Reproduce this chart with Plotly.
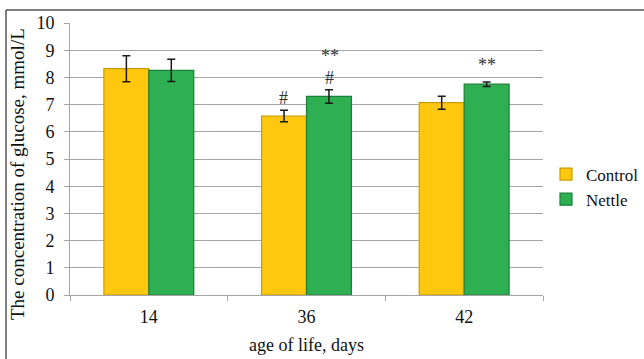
import plotly.graph_objects as go

categories = ["14", "36", "42"]
control = [8.32, 6.58, 7.07]
control_err = [0.48, 0.21, 0.24]
nettle = [8.26, 7.30, 7.75]
nettle_err = [0.41, 0.25, 0.08]

# significance marks: (category, series, label, y)
marks = [
    ("36", "control", "#", 7.25),
    ("36", "nettle", "#", 7.98),
    ("36", "nettle", "**", 8.8),
    ("42", "nettle", "**", 8.45),
]

FONT = "Liberation Serif"
W, H = 644, 359
L, R, T, B = 70, 101, 23, 64
pw, ph = W - L - R, H - T - B

fig = go.Figure()
fig.add_trace(go.Bar(
    name="Control", x=categories, y=control,
    marker=dict(color="#FFC80F", line=dict(color="#C99A00", width=1.2)),
    error_y=dict(type="data", array=control_err, color="#1a1a1a", thickness=1.5, width=4),
))
fig.add_trace(go.Bar(
    name="Nettle", x=categories, y=nettle,
    marker=dict(color="#2EAF52", line=dict(color="#1D7E38", width=1.2)),
    error_y=dict(type="data", array=nettle_err, color="#1a1a1a", thickness=1.5, width=4),
))

bar_px = 46
for cat, ser, lab, yv in marks:
    fig.add_annotation(
        x=categories.index(cat), y=yv, xref="x", yref="y", text=lab, showarrow=False,
        xshift=(-bar_px / 2 if ser == "control" else bar_px / 2),
        font=dict(family=FONT, size=18, color="#333333"),
    )

def px_x(p):
    return (p - L) / pw

def px_y(p):
    return (H - B - p) / ph

# y axis title as rotated text
fig.add_annotation(
    x=px_x(17), y=px_y(174), xref="paper", yref="paper", showarrow=False,
    text="The concentration of glucose, mmol/L", textangle=-90,
    xanchor="center", yanchor="middle",
    font=dict(family=FONT, size=19, color="#111111"),
)

# outer frame (top and left)
fig.add_shape(type="line", xref="paper", yref="paper",
              x0=px_x(6), x1=px_x(650), y0=px_y(10), y1=px_y(10),
              line=dict(color="#555555", width=1.5))
fig.add_shape(type="line", xref="paper", yref="paper",
              x0=px_x(6), x1=px_x(6), y0=px_y(10), y1=px_y(365),
              line=dict(color="#555555", width=1.5))

fig.update_layout(
    width=W, height=H,
    margin=dict(l=L, r=R, t=T, b=B, autoexpand=False),
    paper_bgcolor="white", plot_bgcolor="white",
    barmode="group", bargap=0.43, bargroupgap=0,
    font=dict(family=FONT, size=18, color="#111111"),
    showlegend=True,
    legend=dict(x=px_x(546), y=px_y(187), xanchor="left", yanchor="middle",
                font=dict(family=FONT, size=17, color="#111111"),
                itemwidth=30, tracegroupgap=2, bgcolor="rgba(0,0,0,0)"),
    xaxis=dict(
        type="category", showline=True, linecolor="#A6A6A6", linewidth=1,
        ticks="outside", ticklen=5, tickcolor="#A6A6A6", tickson="boundaries",
        tickangle=0, ticklabelstandoff=5,
        tickfont=dict(family=FONT, size=18, color="#111111"),
        title=dict(text="age of life, days", font=dict(family=FONT, size=18, color="#111111"), standoff=12),
        showgrid=False, automargin=False,
    ),
    yaxis=dict(
        range=[0, 10], dtick=1, showline=True, linecolor="#A6A6A6", linewidth=1,
        ticks="outside", ticklen=5, tickcolor="#A6A6A6", ticklabelstandoff=6,
        showgrid=True, gridcolor="#A6A6A6", gridwidth=1,
        tickfont=dict(family=FONT, size=18, color="#111111"),
        zeroline=False, automargin=False,
    ),
)

fig.write_html("out.html")
